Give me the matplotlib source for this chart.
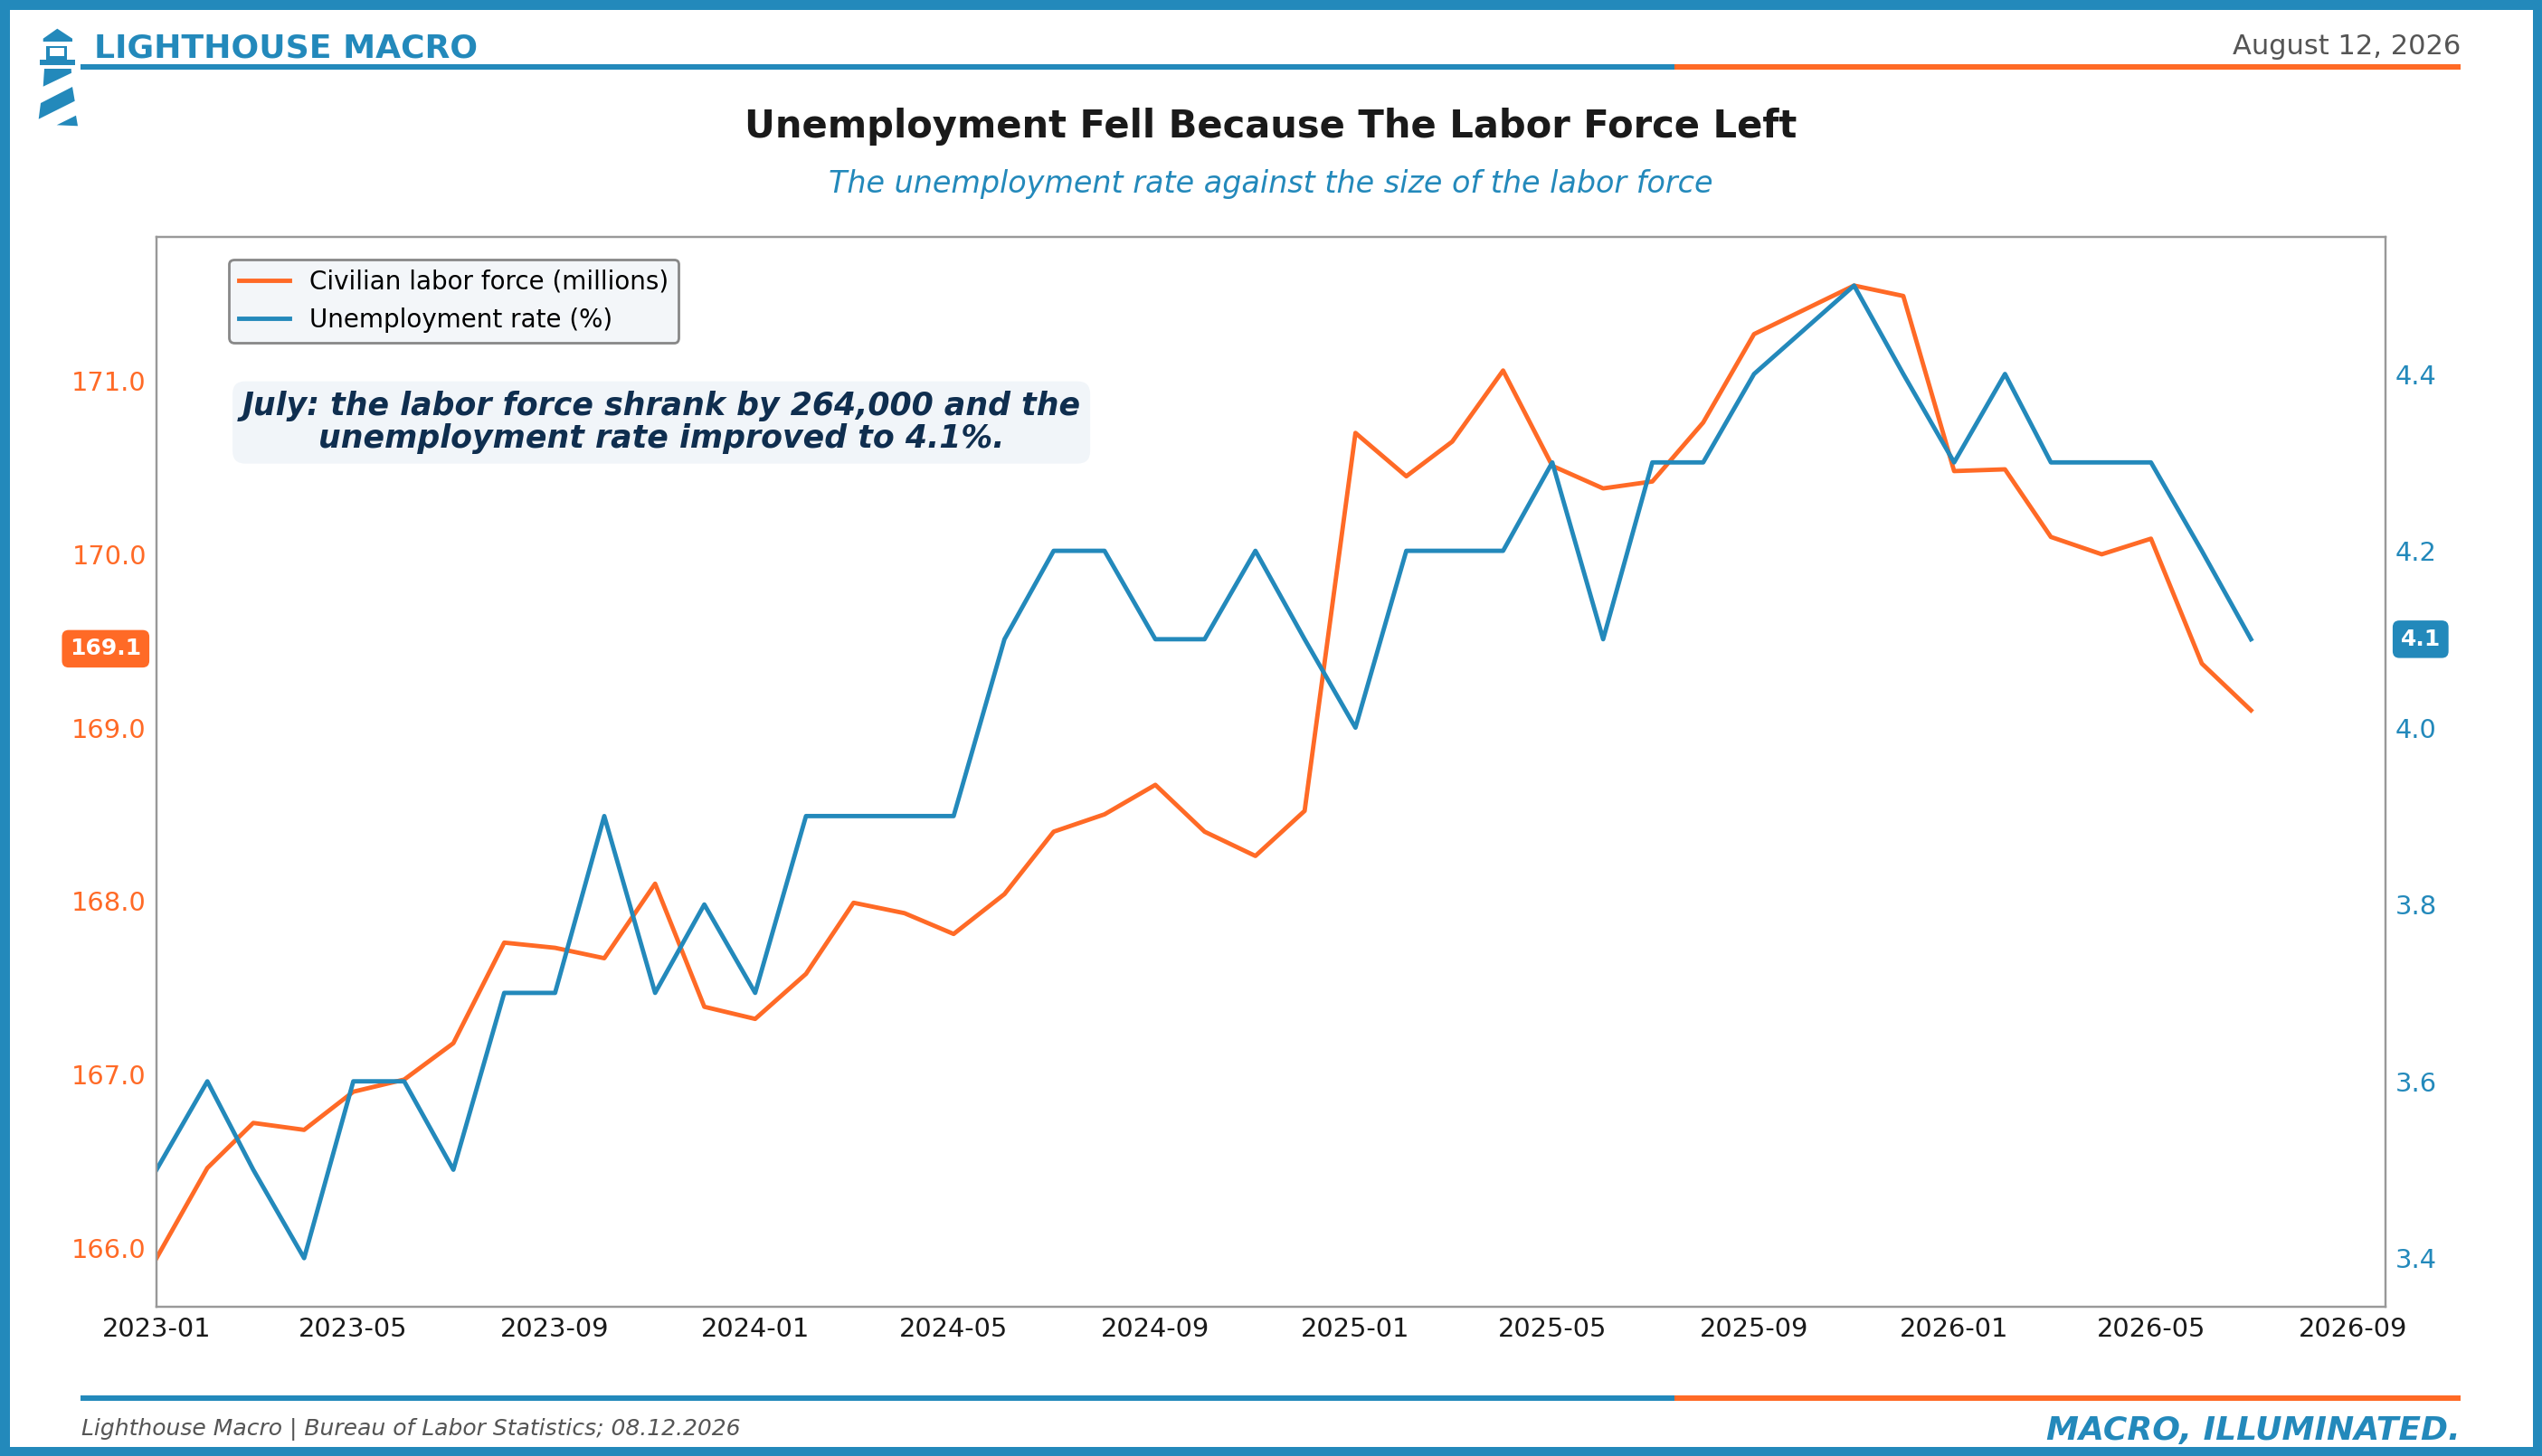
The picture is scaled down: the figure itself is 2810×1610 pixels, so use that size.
import numpy as np
import pandas as pd
import matplotlib
matplotlib.use('Agg')
import matplotlib.pyplot as plt
import matplotlib.dates as mdates
from matplotlib.patches import Rectangle, Polygon
from matplotlib.ticker import FormatStrFormatter

# Data: monthly, Oct 2025 missing (no release)
months = [d for d in pd.date_range('2023-01-01', '2026-07-01', freq='MS') if d != pd.Timestamp('2025-10-01')]
labor_force = [165.94, 166.46, 166.72, 166.68, 166.90, 166.97, 167.18, 167.76, 167.73, 167.67, 168.10, 167.39,
               167.32, 167.58, 167.99, 167.93, 167.81, 168.04, 168.40, 168.50, 168.67, 168.40, 168.26, 168.52,
               170.70, 170.45, 170.65, 171.06, 170.51, 170.38, 170.42, 170.76, 171.27, 171.55, 171.49,
               170.48, 170.49, 170.10, 170.00, 170.09, 169.37, 169.10]
unemp_rate = [3.5, 3.6, 3.5, 3.4, 3.6, 3.6, 3.5, 3.7, 3.7, 3.9, 3.7, 3.8,
              3.7, 3.9, 3.9, 3.9, 3.9, 4.1, 4.2, 4.2, 4.1, 4.1, 4.2, 4.1,
              4.0, 4.2, 4.2, 4.2, 4.3, 4.1, 4.3, 4.3, 4.4, 4.5, 4.4,
              4.3, 4.4, 4.3, 4.3, 4.3, 4.2, 4.1]
lf_ticks = [166.0, 167.0, 168.0, 169.0, 170.0, 171.0]
ur_ticks = [3.4, 3.6, 3.8, 4.0, 4.2, 4.4]

BLUE = '#2389BB'
ORANGE = '#FF6A26'
NAVY = '#0F2E4F'

W, H = 2810, 1610
DPI = 200
fig = plt.figure(figsize=(W / DPI, H / DPI), dpi=DPI)
fig.patch.set_facecolor('white')


def fx(x):
    return x / W


def fy(y):
    return 1 - y / H


def rect_px(x0, y0, x1, y1, color):
    fig.patches.append(Rectangle((fx(x0), fy(y1)), fx(x1) - fx(x0), fy(y0) - fy(y1),
                                 transform=fig.transFigure, facecolor=color, edgecolor='none', zorder=5))


def poly_px(pts, color):
    fig.patches.append(Polygon([(fx(x), fy(y)) for x, y in pts], closed=True,
                               transform=fig.transFigure, facecolor=color, edgecolor='none', zorder=5))


# outer frame
rect_px(0, 0, W, 11, BLUE)
rect_px(0, H - 10, W, H, BLUE)
rect_px(0, 0, 11, H, BLUE)
rect_px(W - 10, 0, W, H, BLUE)

# header / footer rules
rect_px(89, 71, 1851, 77, BLUE)
rect_px(1851, 71, 2720, 77, ORANGE)
rect_px(89, 1543, 1851, 1549, BLUE)
rect_px(1851, 1543, 2720, 1549, ORANGE)

# lighthouse logo
poly_px([(47.7, 42.7), (63.3, 31.7), (80, 42.7), (80, 46), (47.7, 46)], BLUE)
rect_px(50.7, 50.7, 74, 66, BLUE)
rect_px(55, 53.5, 70.7, 62, 'white')
rect_px(44.3, 66, 82.7, 71.7, BLUE)
poly_px([(49, 76), (78.7, 76), (79, 80.7), (47.7, 95.7)], BLUE)
poly_px([(45, 114), (80, 96), (82.7, 111.7), (42.7, 131.7)], BLUE)
poly_px([(62.7, 138.3), (84, 127.7), (86, 139.3)], BLUE)

fig.text(fx(104), fy(64), 'LIGHTHOUSE MACRO', fontsize=13, fontweight='bold', color=BLUE, va='baseline', ha='left')
fig.text(fx(2720), fy(60), 'August 12, 2026', fontsize=11, color='#555555', va='baseline', ha='right')
fig.text(0.5, fy(152), 'Unemployment Fell Because The Labor Force Left', fontsize=15, fontweight='bold',
         color='#1a1a1a', ha='center', va='baseline')
fig.text(0.5, fy(213), 'The unemployment rate against the size of the labor force', fontsize=12,
         style='italic', color=BLUE, ha='center', va='baseline')
fig.text(fx(90), fy(1587), 'Lighthouse Macro | Bureau of Labor Statistics; 08.12.2026', fontsize=9,
         style='italic', color='#555555', ha='left', va='baseline')
fig.text(fx(2720), fy(1592), 'MACRO, ILLUMINATED.', fontsize=13, style='italic', fontweight='bold',
         color=BLUE, ha='right', va='baseline')

# main chart
ax = fig.add_axes([fx(173), fy(1445), fx(2637) - fx(173), fy(262) - fy(1445)])
ax2 = ax.twinx()

l1, = ax.plot(months, labor_force, color=ORANGE, lw=1.75, label='Civilian labor force (millions)')
l2, = ax2.plot(months, unemp_rate, color=BLUE, lw=1.75, label='Unemployment rate (%)')

ax.set_xlim(months[0], months[-1] + pd.Timedelta(days=82))
ax.xaxis.set_major_locator(mdates.MonthLocator(bymonth=[1, 5, 9]))
ax.xaxis.set_major_formatter(mdates.DateFormatter('%Y-%m'))

ax.set_yticks(lf_ticks)
ax.yaxis.set_major_formatter(FormatStrFormatter('%.1f'))
ax2.set_yticks(ur_ticks)
ax2.yaxis.set_major_formatter(FormatStrFormatter('%.1f'))

ax.tick_params(axis='x', length=0, pad=4, labelsize=10.4, labelcolor='#1a1a1a')
ax.tick_params(axis='y', length=0, pad=4, labelsize=10.4, labelcolor=ORANGE)
ax2.tick_params(axis='y', length=0, pad=4, labelsize=10.4, labelcolor=BLUE)

for a in (ax, ax2):
    for s in a.spines.values():
        s.set_color('#999999')
        s.set_linewidth(0.8)

leg = ax.legend(handles=[l1, l2], loc='upper left', bbox_to_anchor=(0.0325, 0.979), borderaxespad=0,
                fontsize=10, frameon=True, framealpha=1, facecolor='#F3F6F9', edgecolor='#888888')
leg.get_frame().set_linewidth(1.0)

ax.text(0.2265, 0.8266, 'July: the labor force shrank by 264,000 and the\nunemployment rate improved to 4.1%.',
        transform=ax.transAxes, ha='center', va='center', fontsize=12.5, fontweight='bold', style='italic',
        color=NAVY, linespacing=1.08,
        bbox=dict(boxstyle='round,pad=0.3,rounding_size=0.4', facecolor='#F1F5F9', edgecolor='none'))

# last-value badges
ax.annotate(f'{labor_force[-1]:.1f}', xy=(0, labor_force[-1]), xycoords=('axes fraction', 'data'),
            xytext=(-6, 24.5), textcoords='offset points', ha='right', va='center',
            fontsize=9, fontweight='bold', color='white', annotation_clip=False,
            bbox=dict(boxstyle='round,pad=0.35,rounding_size=0.3', facecolor=ORANGE, edgecolor='none'))
ax2.annotate(f'{unemp_rate[-1]:.1f}', xy=(1, unemp_rate[-1]), xycoords=('axes fraction', 'data'),
             xytext=(6, 0), textcoords='offset points', ha='left', va='center',
             fontsize=9, fontweight='bold', color='white', annotation_clip=False,
             bbox=dict(boxstyle='round,pad=0.35,rounding_size=0.3', facecolor=BLUE, edgecolor='none'))

fig.savefig('out.png', dpi=DPI)
